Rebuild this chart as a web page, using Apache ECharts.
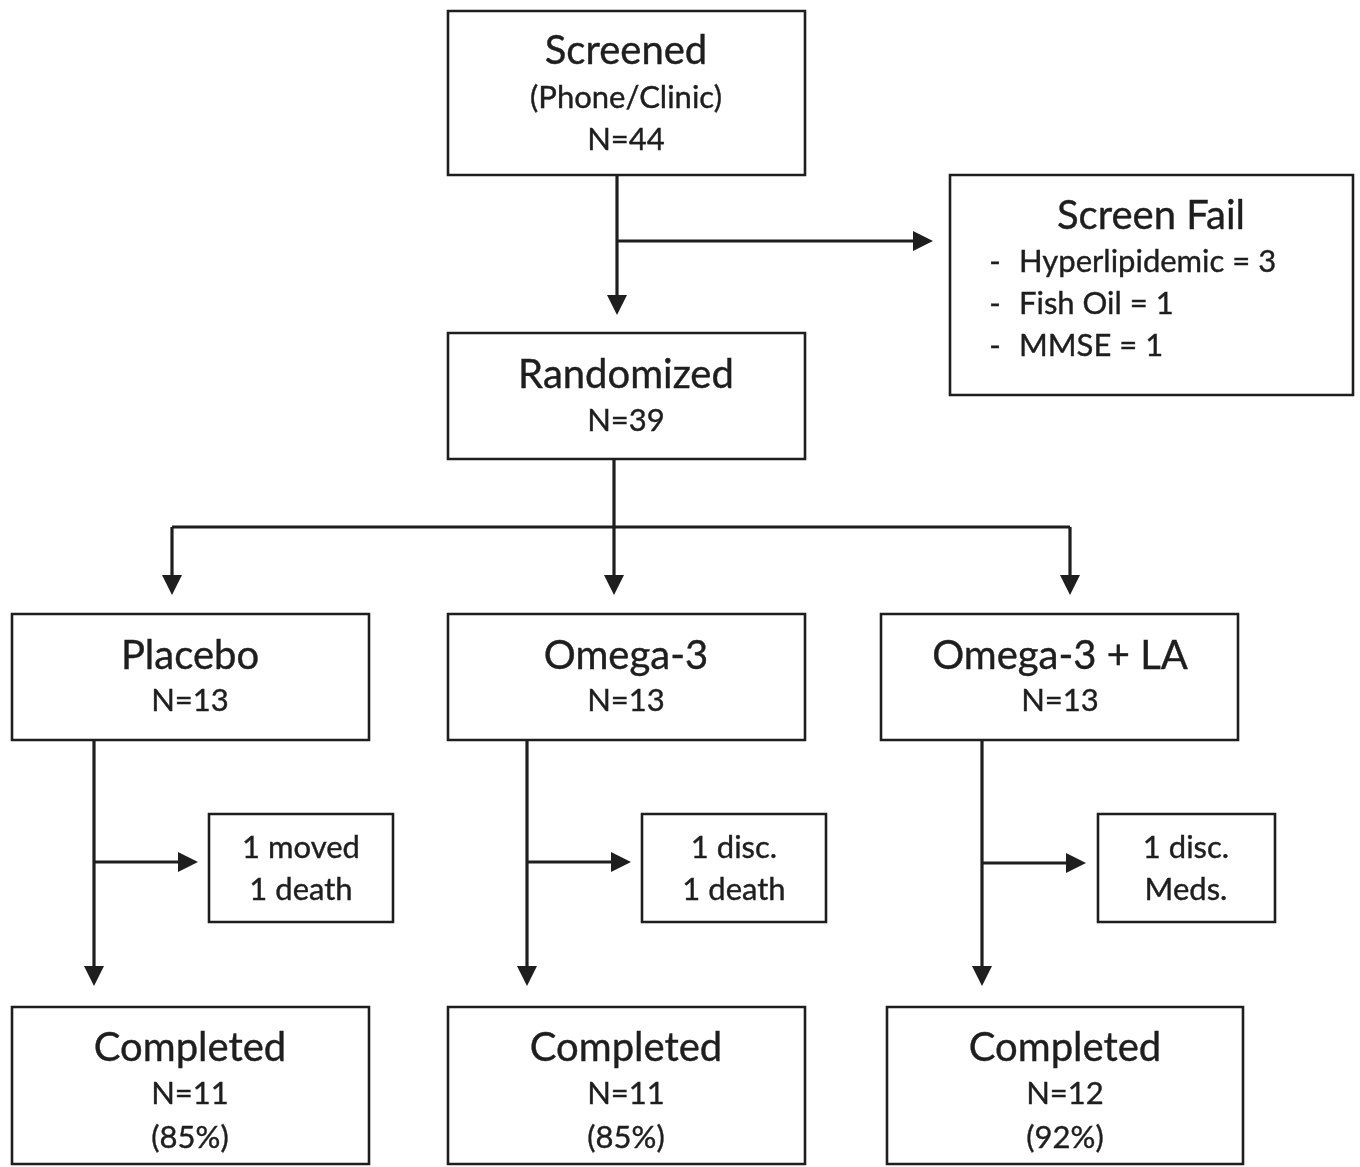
<!DOCTYPE html>
<html>
<head>
<meta charset="utf-8">
<script src="https://cdn.jsdelivr.net/npm/echarts@6/dist/echarts.min.js"></script>
<style>
  html, body { margin: 0; padding: 0; background: #ffffff; }
  #chart { width: 1360px; height: 1167px; }
</style>
</head>
<body>
<div id="chart"></div>
<script>
// ---------- Content (data) ----------
const boxTitles = ['Screened', 'Screen Fail', 'Randomized', 'Placebo', 'Omega-3', 'Omega-3 + LA', 'Completed', 'Completed', 'Completed'];
const boxCounts = ['N=44', '', 'N=39', 'N=13', 'N=13', 'N=13', 'N=11', 'N=11', 'N=12'];
const screenSubtitle = '(Phone/Clinic)';
const screenFailReasons = ['Hyperlipidemic = 3', 'Fish Oil = 1', 'MMSE = 1'];
const completedPct = ['(85%)', '(85%)', '(92%)'];
const dropoutLines = [['1 moved', '1 death'], ['1 disc.', '1 death'], ['1 disc.', 'Meds.']];

// ---------- Layout (positions / sizes, in chart-axis units) ----------
const W = 1360, H = 1167;
const FONT = 'Lato, "Open Sans", sans-serif';
const INK = '#1e1e1e';
const TITLE = 40, SUB = 31;

// node: rect [x0,y0,x1,y1], lines: [text, cx, cy, size, align]
const nodes = [
  { rect: [448, 11, 805, 175], lines: [[boxTitles[0], 626, 51, TITLE], [screenSubtitle, 626, 98, SUB], [boxCounts[0], 626, 140, SUB]] },
  { rect: [950, 175, 1353, 395], lines: [[boxTitles[1], 1151, 216, TITLE],
      ['-', 995, 262, SUB], [screenFailReasons[0], 1019, 262, SUB, 'left'],
      ['-', 995, 304, SUB], [screenFailReasons[1], 1019, 304, SUB, 'left'],
      ['-', 995, 346, SUB], [screenFailReasons[2], 1019, 346, SUB, 'left']] },
  { rect: [448, 333, 805, 459], lines: [[boxTitles[2], 626, 375, TITLE], [boxCounts[2], 626, 421, SUB]] },
  { rect: [12, 614, 369, 740], lines: [[boxTitles[3], 190, 656, TITLE], [boxCounts[3], 190, 701, SUB]] },
  { rect: [448, 614, 805, 740], lines: [[boxTitles[4], 626, 656, TITLE], [boxCounts[4], 626, 701, SUB]] },
  { rect: [881, 614, 1238, 740], lines: [[boxTitles[5], 1060, 656, TITLE], [boxCounts[5], 1060, 701, SUB]] },
  { rect: [209, 814, 393, 922], lines: [[dropoutLines[0][0], 301, 848, SUB], [dropoutLines[0][1], 301, 890, SUB]] },
  { rect: [642, 814, 826, 922], lines: [[dropoutLines[1][0], 734, 848, SUB], [dropoutLines[1][1], 734, 890, SUB]] },
  { rect: [1098, 814, 1275, 922], lines: [[dropoutLines[2][0], 1186, 848, SUB], [dropoutLines[2][1], 1186, 890, SUB]] },
  { rect: [12, 1007, 369, 1164], lines: [[boxTitles[6], 190, 1048, TITLE], [boxCounts[6], 190, 1094, SUB], [completedPct[0], 190, 1138, SUB]] },
  { rect: [448, 1007, 805, 1164], lines: [[boxTitles[7], 626, 1048, TITLE], [boxCounts[7], 626, 1094, SUB], [completedPct[1], 626, 1138, SUB]] },
  { rect: [887, 1007, 1243, 1164], lines: [[boxTitles[8], 1065, 1048, TITLE], [boxCounts[8], 1065, 1094, SUB], [completedPct[2], 1065, 1138, SUB]] }
];

// connectors: polyline points; arrow: whether last point has arrowhead
const connectors = [
  { pts: [[617, 175], [617, 315]], arrow: true },
  { pts: [[617, 241], [933, 241]], arrow: true },
  { pts: [[614, 459], [614, 527]], arrow: false },
  { pts: [[172, 527], [1070, 527]], arrow: false },
  { pts: [[172, 527], [172, 595]], arrow: true },
  { pts: [[614, 527], [614, 595]], arrow: true },
  { pts: [[1070, 527], [1070, 595]], arrow: true },
  { pts: [[94, 740], [94, 986]], arrow: true },
  { pts: [[94, 862], [198, 862]], arrow: true },
  { pts: [[527, 740], [527, 986]], arrow: true },
  { pts: [[527, 862], [631, 862]], arrow: true },
  { pts: [[982, 740], [982, 986]], arrow: true },
  { pts: [[982, 863], [1086, 863]], arrow: true }
];

const chart = echarts.init(document.getElementById('chart'), null, { renderer: 'canvas' });

function renderNode(params, api) {
  const n = nodes[params.dataIndex];
  const p0 = api.coord([n.rect[0], n.rect[1]]);
  const p1 = api.coord([n.rect[2], n.rect[3]]);
  const children = [{
    type: 'rect',
    shape: { x: p0[0], y: p0[1], width: p1[0] - p0[0], height: p1[1] - p0[1] },
    style: { fill: '#ffffff', stroke: INK, lineWidth: 2.6 }
  }];
  n.lines.forEach(function (l) {
    const c = api.coord([l[1], l[2]]);
    children.push({
      type: 'text',
      x: c[0], y: c[1],
      style: {
        text: l[0], fill: INK, font: 'normal ' + l[3] + 'px ' + FONT,
        stroke: INK, lineWidth: 0.4,
        align: l[4] || 'center', verticalAlign: 'middle'
      }
    });
  });
  return { type: 'group', children: children };
}

function renderConnector(params, api) {
  const c = connectors[params.dataIndex];
  const pts = c.pts.map(function (p) { return api.coord(p); });
  const children = [];
  const last = pts[pts.length - 1], prev = pts[pts.length - 2];
  const dx = last[0] - prev[0], dy = last[1] - prev[1];
  const len = Math.sqrt(dx * dx + dy * dy);
  const ux = dx / len, uy = dy / len;
  const AL = 20, AW = 10;
  let linePts = pts.slice();
  if (c.arrow) {
    linePts[linePts.length - 1] = [last[0] - ux * (AL - 2), last[1] - uy * (AL - 2)];
  }
  children.push({
    type: 'polyline',
    shape: { points: linePts },
    style: { stroke: INK, lineWidth: 3.2, fill: null }
  });
  if (c.arrow) {
    const bx = last[0] - ux * AL, by = last[1] - uy * AL;
    children.push({
      type: 'polygon',
      shape: { points: [[last[0], last[1]], [bx - uy * AW, by + ux * AW], [bx + uy * AW, by - ux * AW]] },
      style: { fill: INK, stroke: null }
    });
  }
  return { type: 'group', children: children };
}

chart.setOption({
  animation: false,
  backgroundColor: '#ffffff',
  grid: { left: 0, right: 0, top: 0, bottom: 0 },
  xAxis: { type: 'value', min: 0, max: W, show: false },
  yAxis: { type: 'value', min: 0, max: H, inverse: true, show: false },
  series: [
    {
      type: 'custom',
      name: 'connectors',
      renderItem: renderConnector,
      data: connectors.map(function (c, i) { return [c.pts[0][0], c.pts[0][1], i]; }),
      encode: { x: 0, y: 1 },
      z: 1,
      silent: true
    },
    {
      type: 'custom',
      name: 'boxes',
      renderItem: renderNode,
      data: nodes.map(function (n, i) { return [n.rect[0], n.rect[1], i]; }),
      encode: { x: 0, y: 1 },
      z: 2,
      silent: true
    }
  ]
});
</script>
</body>
</html>
